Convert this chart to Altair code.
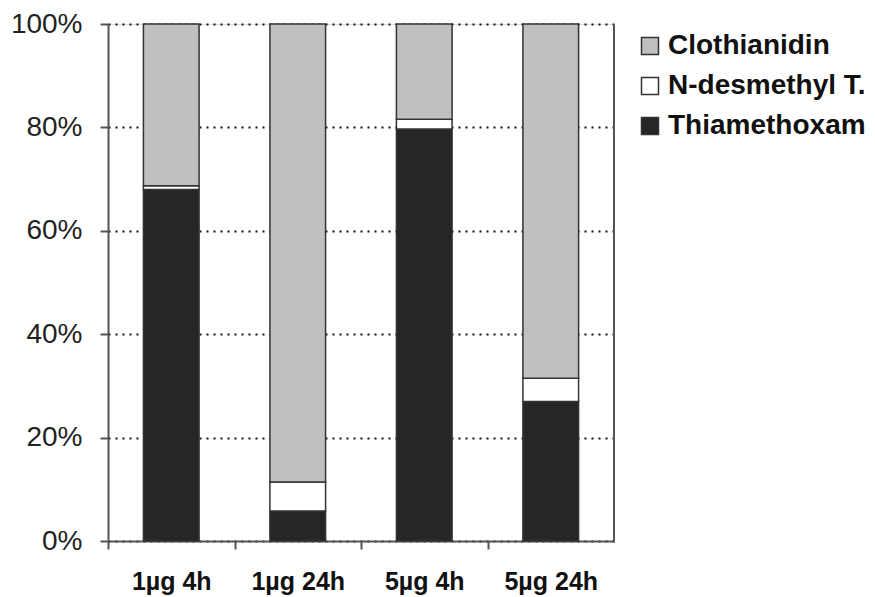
import altair as alt
import pandas as pd

categories = ["1µg 4h", "1µg 24h", "5µg 4h", "5µg 24h"]
series = ["Clothianidin", "N-desmethyl T.", "Thiamethoxam"]
thiamethoxam = [68.0, 5.8, 79.7, 27.0]
n_desmethyl = [0.7, 5.6, 1.9, 4.5]
clothianidin = [31.3, 88.6, 18.4, 68.5]
colors = ["#c0c0c0", "#ffffff", "#262626"]

rows = []
for i, c in enumerate(categories):
    rows.append({"cat": c, "series": "Thiamethoxam", "value": thiamethoxam[i], "ord": 0})
    rows.append({"cat": c, "series": "N-desmethyl T.", "value": n_desmethyl[i], "ord": 1})
    rows.append({"cat": c, "series": "Clothianidin", "value": clothianidin[i], "ord": 2})
df = pd.DataFrame(rows)

W, H = 506, 517
STEP = W / len(categories)
FONT = "Liberation Sans"

bars = alt.Chart(df).mark_bar(stroke="#333333", strokeWidth=1.5).encode(
    x=alt.X("cat:N", sort=categories, title=None,
            scale=alt.Scale(paddingInner=0.56, paddingOuter=0.28),
            axis=alt.Axis(labelAngle=0, labelFont=FONT, labelFontSize=25,
                          labelFontWeight="bold", labelColor="#111111",
                          labelPadding=20, tickOffset=-STEP / 2,
                          labelOffset=STEP / 2, tickSize=8,
                          tickColor="#555555", tickWidth=2,
                          domainColor="#555555", domainWidth=2, grid=False)),
    y=alt.Y("value:Q", stack="zero", title=None,
            scale=alt.Scale(domain=[0, 100], nice=False),
            axis=alt.Axis(values=[0, 20, 40, 60, 80, 100],
                          labelExpr="datum.value + '%'",
                          labelFont=FONT, labelFontSize=28, labelColor="#222222",
                          labelPadding=18, tickSize=8, tickColor="#555555",
                          tickWidth=2, domainColor="#555555", domainWidth=2,
                          grid=True, gridColor="#111111", gridDash=[2, 5],
                          gridWidth=2)),
    color=alt.Color("series:N", sort=series,
                    scale=alt.Scale(domain=series, range=colors),
                    legend=alt.Legend(title=None, orient="none", legendX=528,
                                      legendY=8, symbolType="square",
                                      symbolSize=289, symbolStrokeColor="#333333",
                                      symbolStrokeWidth=1.5, labelFont=FONT,
                                      labelFontSize=28, labelFontWeight="bold",
                                      labelColor="#111111", labelOffset=4,
                                      labelLimit=0, rowPadding=12,
                                      symbolOpacity=1)),
    order=alt.Order("ord:Q"),
)

border = alt.Chart(df).mark_rule(color="#555555", strokeWidth=2).encode(
    x=alt.value(W), y=alt.value(0), y2=alt.value(H)
)

chart = (bars + border).properties(
    width=W, height=H,
    autosize=alt.AutoSizeParams(type="none"),
    padding={"left": 108, "top": 24, "right": 261, "bottom": 56},
).configure_view(stroke=None).configure(background="#ffffff")

chart.save("out.html", embed_options={"renderer": "svg", "actions": False})
